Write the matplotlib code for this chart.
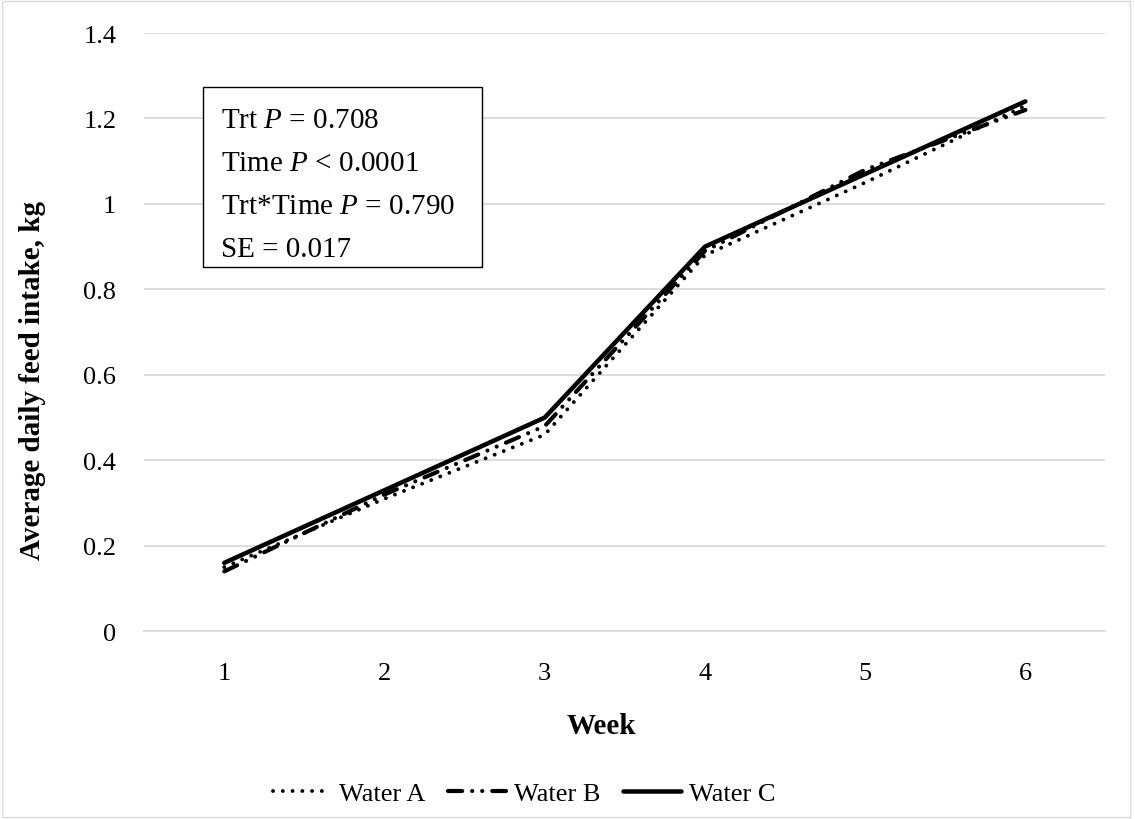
import matplotlib.pyplot as plt
from matplotlib.patches import Rectangle

plt.rcParams['font.family'] = ['Liberation Serif', 'DejaVu Serif']
plt.rcParams['mathtext.fontset'] = 'custom'
plt.rcParams['mathtext.it'] = 'Liberation Serif:italic'
plt.rcParams['mathtext.rm'] = 'Liberation Serif'

weeks = [1, 2, 3, 4, 5, 6]
water_a = [0.15, 0.31, 0.46, 0.88, 1.05, 1.23]
water_b = [0.14, 0.32, 0.48, 0.89, 1.08, 1.22]
water_c = [0.16, 0.33, 0.50, 0.90, 1.07, 1.24]
yticks = [0, 0.2, 0.4, 0.6, 0.8, 1, 1.2, 1.4]
ytick_labels = ['0', '0.2', '0.4', '0.6', '0.8', '1', '1.2', '1.4']
stats_lines = ['Trt $P$ = 0.708', 'Time $P$ < 0.0001',
               'Trt*Time $P$ = 0.790', 'SE = 0.017']

fig = plt.figure(figsize=(11.35, 8.2), dpi=100)
ax = fig.add_axes([0.127, 0.229, 0.847, 0.7295])

ax.plot(weeks, water_a, color='black', lw=2.8, dash_capstyle='round',
        linestyle=(0, (0.01, 2.5)), label='Water A')
ax.plot(weeks, water_b, color='black', lw=3, dash_capstyle='round',
        linestyle=(0, (3.4, 2.4, 0.01, 2.4, 0.01, 2.4)), label='Water B')
ax.plot(weeks, water_c, color='black', lw=3.25, solid_capstyle='round',
        label='Water C')

ax.set_xlim(0.5, 6.5)
ax.set_ylim(0, 1.4)
ax.set_xticks(weeks)
ax.set_xticklabels([str(w) for w in weeks])
ax.set_yticks(yticks)
ax.set_yticklabels(ytick_labels)
ax.tick_params(axis='both', length=0, labelsize=19)
ax.tick_params(axis='x', pad=22)
ax.tick_params(axis='y', pad=20)
ax.grid(axis='y', color='#d9d9d9', lw=1.3)
ax.set_axisbelow(True)
for s in ['top', 'right', 'left']:
    ax.spines[s].set_visible(False)
ax.spines['bottom'].set_color('#d9d9d9')
ax.spines['bottom'].set_linewidth(1.3)

ax.set_xlabel('Week', fontsize=21, fontweight='bold', va='center')
ax.xaxis.set_label_coords(0.476, -0.157)
ax.set_ylabel('Average daily feed intake, kg', fontsize=21,
              fontweight='bold', va='center')
ax.yaxis.set_label_coords(-0.116, 0.42)

# stats box
fig.patches.append(Rectangle((0.1789, 0.6732), 0.2458, 0.2195,
                             transform=fig.transFigure, fc='white',
                             ec='black', lw=1, zorder=5))
fig.text(0.1947, 0.868, '\n'.join(stats_lines), fontsize=21, va='top',
         ha='left', linespacing=1.84, zorder=6)

fig.legend(loc='center', bbox_to_anchor=(0.4617, 0.031), ncol=3,
           frameon=False, fontsize=19, handlelength=2.2,
           handletextpad=0.3, columnspacing=0.85)

fig.patches.append(Rectangle((0.002, 0.003), 0.994, 0.994,
                             transform=fig.transFigure, fill=False,
                             ec='#d9d9d9', lw=1))

fig.savefig('out.png', dpi=100)
